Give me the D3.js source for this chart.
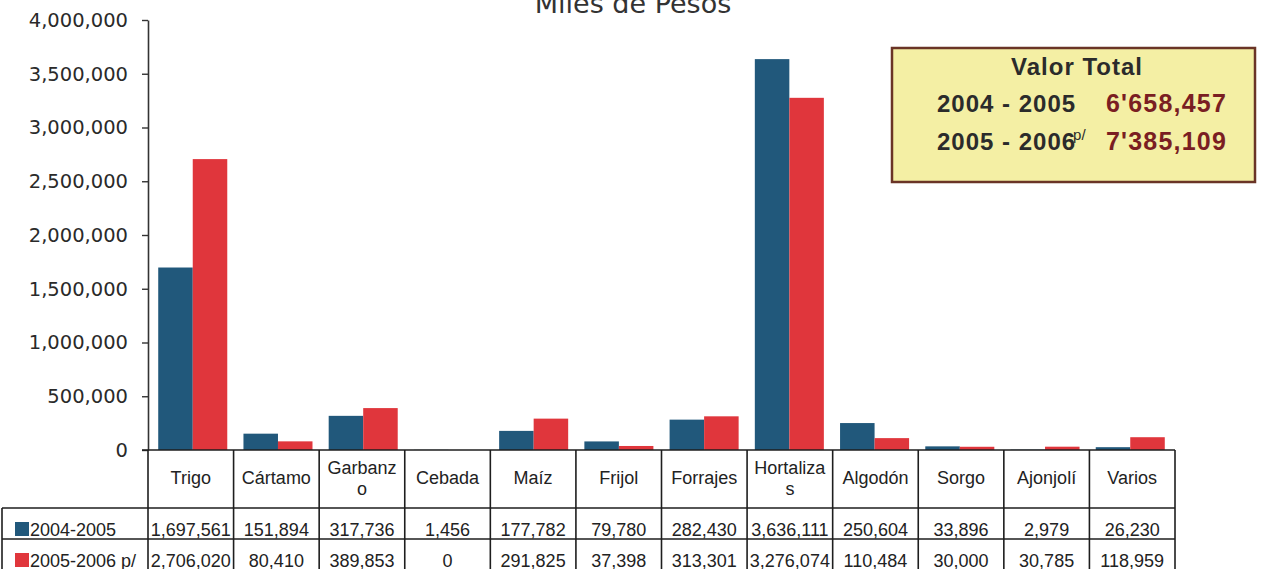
<!DOCTYPE html>
<html>
<head>
<meta charset="utf-8">
<script src="https://cdn.jsdelivr.net/npm/d3@7"></script>
<style>
    body { margin: 0; background: #fff; }
    svg { display: block; }
</style>
</head>
<body>
<div id="chart"></div>
<script>
// crops and values (miles de pesos)
var categories = ["Trigo", "Cártamo", "Garbanzo", "Cebada", "Maíz", "Frijol", "Forrajes", "Hortalizas", "Algodón", "Sorgo", "Ajonjolí", "Varios"];
var seriesNames = ["2004-2005", "2005-2006 p/"];
var values0405 = [1697561, 151894, 317736, 1456, 177782, 79780, 282430, 3636111, 250604, 33896, 2979, 26230];
var values0506 = [2706020, 80410, 389853, 0, 291825, 37398, 313301, 3276074, 110484, 30000, 30785, 118959];
var yTicks = [0, 500000, 1000000, 1500000, 2000000, 2500000, 3000000, 3500000, 4000000];
var totalTitle = "Valor Total";
var totalLabels = ["2004 - 2005", "2005 - 2006"];
var totalValues = ["6'658,457", "7'385,109"];

var width = 1268, height = 569;
var colors = ["#21587b", "#e0363c"];
var tableFont = "'Liberation Sans', Arial, sans-serif";
var axisFont = "'DejaVu Sans', Verdana, sans-serif";

var svg = d3.select("#chart").append("svg")
    .attr("width", width)
    .attr("height", height);

// plot area
var plotLeft = 148, plotRight = 1175, plotTop = 20, base = 450;

var x = d3.scaleBand()
    .domain(categories)
    .range([plotLeft, plotRight])
    .paddingInner(0.19)
    .paddingOuter(0.12);

var step = (plotRight - plotLeft) / categories.length;
var colLeft = function (i) { return plotLeft + i * step; };

var xSub = d3.scaleBand()
    .domain(seriesNames)
    .range([0, x.bandwidth()]);

var y = d3.scaleLinear()
    .domain([0, 4000000])
    .range([base, plotTop]);

// title (cut off at top of the page)
svg.append("text")
    .attr("x", 633)
    .attr("y", 13)
    .attr("text-anchor", "middle")
    .style("font-family", axisFont)
    .style("font-size", "27px")
    .style("fill", "#333")
    .text("Miles de Pesos");

// bars
var rows = categories.map(function (c, i) {
    return { cat: c, vals: [values0405[i], values0506[i]] };
});

var groups = svg.append("g").selectAll("g")
    .data(rows)
    .enter().append("g")
    .attr("transform", function (d) { return "translate(" + x(d.cat) + ",0)"; });

groups.selectAll("rect")
    .data(function (d) { return d.vals.map(function (v, k) { return { v: v, k: k }; }); })
    .enter().append("rect")
    .attr("x", function (d) { return xSub(seriesNames[d.k]); })
    .attr("width", xSub.bandwidth())
    .attr("y", function (d) { return y(d.v); })
    .attr("height", function (d) { return base - y(d.v); })
    .attr("fill", function (d) { return colors[d.k]; });

// y axis
var yAxis = svg.append("g")
    .attr("transform", "translate(" + plotLeft + ",0)")
    .call(d3.axisLeft(y).tickValues(yTicks).tickFormat(d3.format(",")).tickSizeInner(6).tickSizeOuter(0).tickPadding(14));

yAxis.select(".domain").attr("stroke", "#333").attr("stroke-width", 1.6);
yAxis.selectAll(".tick line").attr("stroke", "#333").attr("stroke-width", 1.4);
yAxis.selectAll(".tick text")
    .style("font-family", axisFont)
    .style("font-size", "19.5px")
    .style("fill", "#2a2a2a");

// ****************** data table ***************************
var table = svg.append("g");
var headTop = base, headBot = 508, row1Bot = 539, row2Bot = 570;
var lineColor = "#1e1e1e";

function hline(x1, x2, yy) {
    table.append("line").attr("x1", x1).attr("x2", x2).attr("y1", yy).attr("y2", yy)
        .attr("stroke", lineColor).attr("stroke-width", 1.6);
}
function vline(xx, y1, y2) {
    table.append("line").attr("x1", xx).attr("x2", xx).attr("y1", y1).attr("y2", y2)
        .attr("stroke", lineColor).attr("stroke-width", 1.6);
}

hline(plotLeft - 6, plotRight, headTop);
hline(2, plotRight, headBot);
hline(2, plotRight, row1Bot);
hline(2, plotRight, row2Bot);
vline(2, headBot, row2Bot);
d3.range(categories.length + 1).forEach(function (i) {
    vline(colLeft(i), headTop, row2Bot);
});

// header labels, wrapped like a narrow cell would
categories.forEach(function (c, i) {
    var cx = colLeft(i) + step / 2;
    var t = table.append("text")
        .attr("x", cx)
        .attr("text-anchor", "middle")
        .style("font-family", tableFont)
        .style("font-size", "18px")
        .style("fill", "#222")
        .text(c);
    if (t.node().getComputedTextLength() > step - 12) {
        var first = c, rest = "";
        while (t.text(first).node().getComputedTextLength() > step - 12) {
            rest = first.slice(-1) + rest;
            first = first.slice(0, -1);
        }
        t.text(null);
        t.append("tspan").attr("x", cx).attr("y", headTop + 24).text(first);
        t.append("tspan").attr("x", cx).attr("y", headTop + 45).text(rest);
    } else {
        t.attr("y", headTop + 34);
    }
});

// value rows
var fmt = d3.format(",");
[values0405, values0506].forEach(function (vals, k) {
    var rowTop = k === 0 ? headBot : row1Bot;
    table.append("rect")
        .attr("x", 15).attr("y", rowTop + 14)
        .attr("width", 14).attr("height", 14)
        .attr("fill", colors[k]);
    table.append("text")
        .attr("x", 30).attr("y", rowTop + 28)
        .style("font-family", tableFont)
        .style("font-size", "18px")
        .style("fill", "#222")
        .text(seriesNames[k]);
    vals.forEach(function (v, i) {
        table.append("text")
            .attr("x", colLeft(i) + step / 2)
            .attr("y", rowTop + 28)
            .attr("text-anchor", "middle")
            .style("font-family", tableFont)
            .style("font-size", "18px")
            .style("fill", "#222")
            .text(fmt(v));
    });
});

// ****************** total box ***************************
var box = svg.append("g");
box.append("rect")
    .attr("x", 892).attr("y", 48)
    .attr("width", 363).attr("height", 134)
    .attr("fill", "#f4efa4")
    .attr("stroke", "#6a3426")
    .attr("stroke-width", 2.5);

box.append("text")
    .attr("x", 1077).attr("y", 75)
    .attr("text-anchor", "middle")
    .style("font-family", tableFont)
    .style("font-weight", "bold")
    .style("font-size", "24px")
    .style("letter-spacing", "1px")
    .style("fill", "#2b2b2b")
    .text(totalTitle);

totalLabels.forEach(function (lab, k) {
    var yy = k === 0 ? 112 : 150;
    var t = box.append("text")
        .attr("x", 937).attr("y", yy)
        .style("font-family", tableFont)
        .style("font-weight", "bold")
        .style("font-size", "24px")
        .style("letter-spacing", "1px")
        .style("fill", "#2b2b2b")
        .text(lab);
    if (k === 1) {
        t.append("tspan")
            .attr("dx", -3)
            .attr("dy", -10)
            .style("font-size", "15px")
            .style("font-weight", "normal")
            .style("letter-spacing", "0px")
            .text("p/");
    }
    box.append("text")
        .attr("x", 1227).attr("y", yy)
        .attr("text-anchor", "end")
        .style("font-family", tableFont)
        .style("font-weight", "bold")
        .style("font-size", "25px")
        .style("letter-spacing", "1.2px")
        .style("fill", "#7a1e22")
        .text(totalValues[k]);
});
</script>
</body>
</html>
